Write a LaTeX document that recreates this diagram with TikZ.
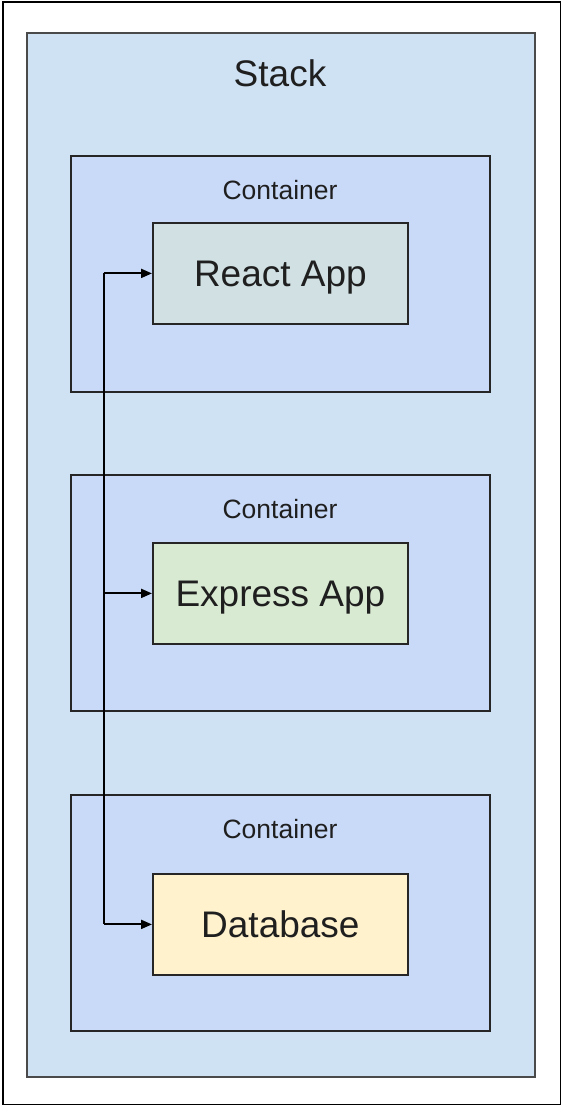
\documentclass[tikz,border=0pt]{standalone}
\usepackage{fontspec}
\setmainfont{Liberation Sans}
\usetikzlibrary{arrows.meta}
\definecolor{stackfill}{HTML}{CFE2F3}
\definecolor{contfill}{HTML}{C9DAF8}
\definecolor{reactfill}{HTML}{D0E0E3}
\definecolor{expressfill}{HTML}{D9EAD3}
\definecolor{dbfill}{HTML}{FFF2CC}
\definecolor{stackline}{HTML}{4A4A4A}
\definecolor{txt}{HTML}{1F1F1F}
\tikzset{
  stackbox/.style={draw=stackline, line width=1.8pt, fill=stackfill, anchor=north west,
    minimum width=508pt, minimum height=1044pt, inner sep=0pt},
  contbox/.style={draw=black!85, line width=1.8pt, fill=contfill, anchor=north west,
    minimum width=419pt, minimum height=236pt, inner sep=0pt},
  appbox/.style={draw=black!85, line width=1.8pt, anchor=north west,
    minimum width=255pt, minimum height=101pt, inner sep=0pt, text depth=0pt,
    font=\fontsize{37}{41}\selectfont, text=txt},
  biglabel/.style={font=\fontsize{37}{41}\selectfont, text=txt, inner sep=0pt, text depth=0pt},
  contlabel/.style={font=\fontsize{26.5}{30}\selectfont, text=txt, inner sep=0pt, text depth=0pt},
  conn/.style={draw=black, line width=2pt},
  arr/.style={conn, -{Triangle[length=11pt,width=9pt]}},
}
\begin{document}
\begin{tikzpicture}[x=1pt,y=-1pt]
\useasboundingbox (0,0) rectangle (561,1105);
\node[draw=black, line width=2pt, minimum width=558pt, minimum height=1102pt, inner sep=0pt, anchor=north west] (frame) at (1.5,1.5) {};
\node[stackbox] (stack) at (26,32) {};
\node[biglabel] (stacklabel) at (280,73) {Stack};

\node[contbox] (c1) at (70,155) {};
\node[contbox] (c2) at (70,474) {};
\node[contbox] (c3) at (70,794) {};
\node[contlabel] (l1) at (280,189.5) {Container};
\node[contlabel] (l2) at (280,508.5) {Container};
\node[contlabel] (l3) at (280,828.5) {Container};

\node[appbox, fill=reactfill] (react) at (152,222) {React App};
\node[appbox, fill=expressfill] (express) at (152,542) {Express App};
\node[appbox, fill=dbfill] (db) at (152,873) {Database};

\coordinate (jtop) at ([xshift=-48.5pt]react.west);
\coordinate (jmid) at ([xshift=-48.5pt]express.west);
\coordinate (jbot) at ([xshift=-48.5pt]db.west);
\draw[conn] (jtop) -- (jbot);
\draw[arr] (jtop) -- (react.west);
\draw[arr] (jmid) -- (express.west);
\draw[arr] (jbot) -- (db.west);
\end{tikzpicture}
\end{document}
